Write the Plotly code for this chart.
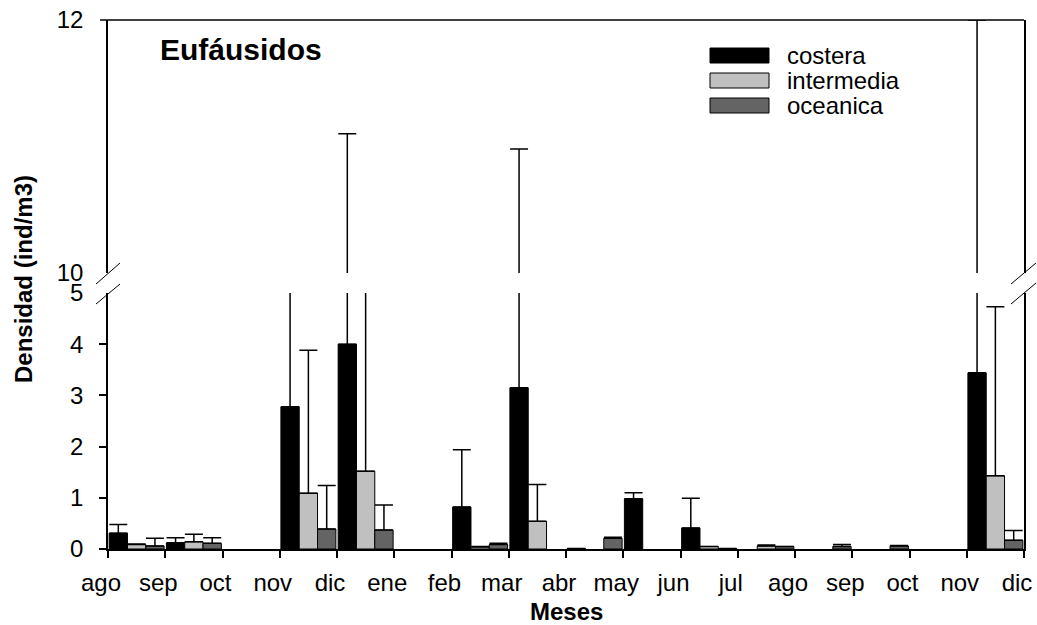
import plotly.graph_objects as go
import numpy as np

# ---- data ----
tick_labels = ["ago", "sep", "oct", "nov", "dic", "ene", "feb", "mar", "abr",
               "may", "jun", "jul", "ago", "sep", "oct", "nov", "dic"]
# 16 sampled months (ago .. nov); each group sits between consecutive ticks
costera = [0.31, 0.12, None, 2.78, 4.00, None, 0.82, 3.15, 0.01, 0.98, 0.41,
           None, None, None, None, 3.44]
costera_err = [0.17, 0.10, None, 4.5, 7.10, None, 1.12, 7.83, None, 0.12, 0.58,
               None, None, None, None, 8.56]
intermedia = [0.09, 0.14, None, 1.09, 1.52, None, 0.04, 0.54, None, None, 0.05,
              0.06, None, None, None, 1.43]
intermedia_err = [0.01, 0.15, None, 2.79, 5.00, None, 0.01, 0.72, None, None, None,
                  0.02, None, None, None, 3.30]
oceanica = [0.06, 0.11, None, 0.39, 0.37, None, 0.09, None, 0.21, None, 0.01,
            0.05, 0.05, 0.06, None, 0.17]
oceanica_err = [0.15, 0.11, None, 0.85, 0.49, None, 0.02, None, 0.02, None, None,
                None, 0.04, 0.01, None, 0.19]

series = [("costera", costera, costera_err, "#000000"),
          ("intermedia", intermedia, intermedia_err, "#c0c0c0"),
          ("oceanica", oceanica, oceanica_err, "#646464")]

# ---- geometry (pixels) ----
W, H = 1037, 625
L, R, T, B = 108, 13, 20, 76
PW, PH = W - L - R, H - T - B
y_low_top = 293   # pixel of value 5
y_up_bot = 273    # pixel of value 10


def px(xp):
    return (xp - L) / PW


def py(yp):
    return (H - B - yp) / PH


FONT = "Liberation Sans, Arial, sans-serif"
xg = np.arange(len(costera)) + 0.5

fig = go.Figure()
for xa, ya in (("x", "y"), ("x2", "y2")):
    for name, vals, err, col in series:
        fig.add_trace(go.Bar(
            x=xg, y=vals, name=name, xaxis=xa, yaxis=ya, showlegend=False,
            marker=dict(color=col, line=dict(color="black", width=1)),
            error_y=dict(type="data", symmetric=False, array=err,
                         arrayminus=[0] * len(err), color="black",
                         thickness=1.5, width=9),
        ))

axis_common = dict(showgrid=False, zeroline=False, linecolor="black", linewidth=1.5,
                   automargin=False,
                   tickfont=dict(family=FONT, size=24, color="black"))

fig.update_layout(
    width=W, height=H,
    margin=dict(l=L, r=R, t=T, b=B, autoexpand=False),
    paper_bgcolor="white", plot_bgcolor="white",
    barmode="group", bargap=0.04, bargroupgap=0,
    xaxis=dict(range=[0, 16], tickmode="array", tickvals=list(range(17)),
               ticktext=tick_labels, ticks="outside", ticklen=7, tickwidth=1.5,
               tickcolor="black", showline=True, anchor="y",
               ticklabelshift=-7, ticklabelstandoff=4, **axis_common),
    xaxis2=dict(range=[0, 16], matches="x", anchor="y2", visible=False),
    yaxis=dict(range=[0, 5], domain=[0, py(y_low_top)], tickmode="array",
               tickvals=[0, 1, 2, 3, 4, 5], ticks="", showline=True, mirror=True,
               anchor="x", ticklabelstandoff=18, **axis_common),
    yaxis3=dict(range=[0, 5], overlaying="y", side="left", tickmode="array",
                tickvals=[0, 1, 2, 3, 4], ticks="outside", ticklen=8, tickwidth=1.5,
                tickcolor="black", showticklabels=False, showline=False,
                showgrid=False, zeroline=False, anchor="x", automargin=False),
    yaxis2=dict(range=[10, 12], domain=[py(y_up_bot), 1], tickmode="array",
                tickvals=[10, 12], ticks="", showline=True, mirror=True,
                anchor="x2", ticklabelstandoff=18, **axis_common),
)

# dummy trace so yaxis3 gets drawn
fig.add_trace(go.Scatter(x=[None], y=[None], yaxis="y3", xaxis="x", showlegend=False))

shapes = []
# top border including the 12 tick
shapes.append(dict(type="line", xref="paper", yref="paper", x0=px(100), x1=px(1024),
                   y0=1, y1=1, line=dict(color="black", width=1.5)))
# axis break slashes
for (x0, y0, x1, y1) in [(96, 284, 120, 263), (96, 304, 120, 284),
                         (1011, 284, 1036, 263), (1011, 304, 1036, 283)]:
    shapes.append(dict(type="line", xref="paper", yref="paper", x0=px(x0), y0=py(y0),
                       x1=px(x1), y1=py(y1), line=dict(color="black", width=1)))

annotations = []
# manual legend
leg_rows = [48, 73, 98]
for (name, _, _, col), top in zip(series, leg_rows):
    shapes.append(dict(type="rect", xref="paper", yref="paper", x0=px(710), x1=px(769),
                       y0=py(top + 15), y1=py(top), fillcolor=col,
                       line=dict(color="black", width=1)))
    annotations.append(dict(text=name, xref="paper", yref="paper", x=px(785),
                            y=py(top + 7.5), xanchor="left", yanchor="middle",
                            showarrow=False,
                            font=dict(family=FONT, size=24, color="black")))

annotations.append(dict(text="<b>Eufáusidos</b>", xref="paper", yref="paper",
                        x=px(158), y=py(50), xanchor="left", yanchor="middle",
                        showarrow=False, font=dict(family=FONT, size=30, color="black")))
annotations.append(dict(text="<b>Meses</b>", xref="paper", yref="paper",
                        x=px(566), y=py(611), xanchor="center", yanchor="middle",
                        showarrow=False, font=dict(family=FONT, size=24, color="black")))
annotations.append(dict(text="<b>Densidad (ind/m3)</b>", xref="paper", yref="paper",
                        x=px(23), y=py(279), xanchor="center", yanchor="middle",
                        textangle=-90, showarrow=False,
                        font=dict(family=FONT, size=24, color="black")))

fig.update_layout(shapes=shapes, annotations=annotations)
fig.write_html("out.html", config={"displayModeBar": False},
               post_script="document.body.style.margin='0';document.body.style.overflow='hidden';")
